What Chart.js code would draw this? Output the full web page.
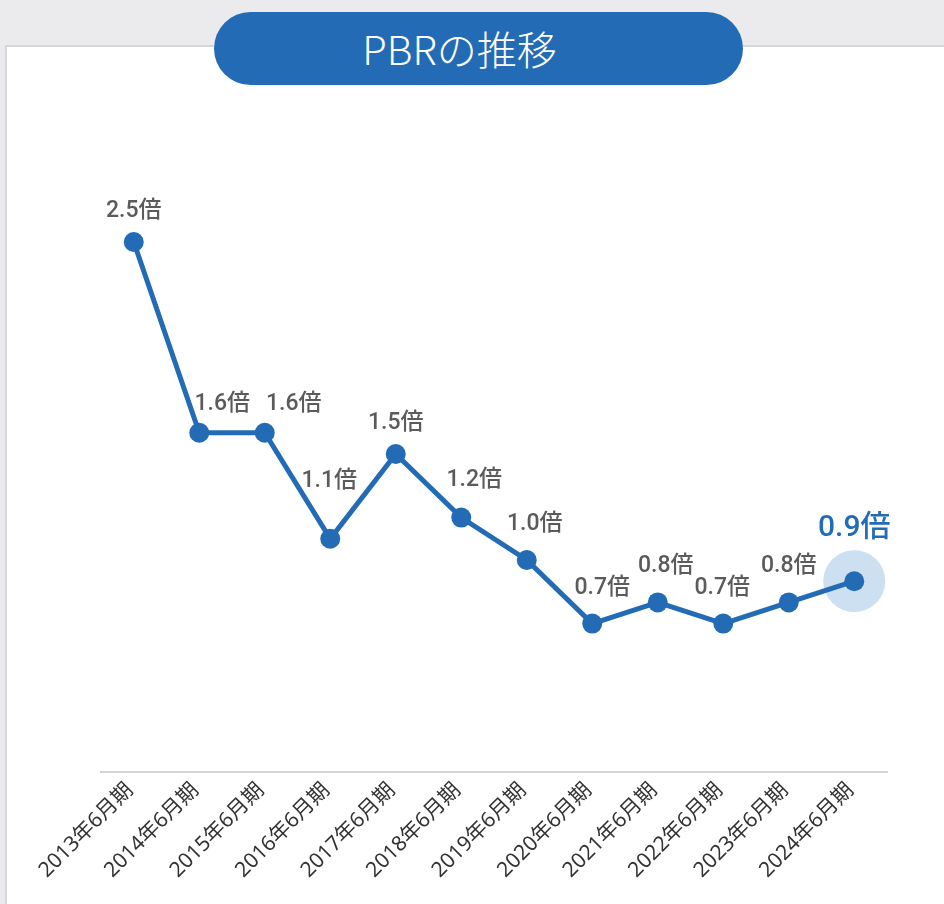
<!DOCTYPE html>
<html>
<head>
<meta charset="utf-8">
<script src="https://cdn.jsdelivr.net/npm/chart.js@4.4.1/dist/chart.umd.min.js"></script>
<style>
  html, body { margin:0; padding:0; }
  body { width:944px; height:904px; background:#ebebee; position:relative; overflow:hidden; font-family:"Noto Sans CJK JP","Noto Sans",sans-serif; }
  #panel { position:absolute; left:5px; top:45px; right:0; bottom:0; background:#fff; border-left:2px solid #d7d7d9; border-top:2px solid #d7d7d9; }
  #title { position:absolute; left:214px; top:12px; width:529px; height:73px; border-radius:37px; background:#236cb5; color:#fff;
           font-family:"Noto Sans CJK JP",sans-serif; font-weight:300; font-size:40px; line-height:73px; text-align:center; text-indent:-38px; }
  #wrap { position:absolute; left:0; top:0; width:944px; height:904px; }
</style>
</head>
<body>
<div id="panel"></div>
<div id="title">PBRの推移</div>
<div id="wrap"><canvas id="c" width="944" height="904"></canvas></div>
<script>
const categories = ["2013年6月期","2014年6月期","2015年6月期","2016年6月期","2017年6月期","2018年6月期","2019年6月期","2020年6月期","2021年6月期","2022年6月期","2023年6月期","2024年6月期"];
const pbrValues = [2.5, 1.6, 1.6, 1.1, 1.5, 1.2, 1.0, 0.7, 0.8, 0.7, 0.8, 0.9];
const valueLabels = ["2.5倍","1.6倍","1.6倍","1.1倍","1.5倍","1.2倍","1.0倍","0.7倍","0.8倍","0.7倍","0.8倍","0.9倍"];
// label placement offsets (px) relative to each point
const labelDx = [0, 23, 29, -1, 0, 13, 8, 10, 8, -1, 0, 0];
const labelDy = [-31, -29, -29, -58, -31, -37, -36, -35, -36, -35, -36, -53];

const BLUE = "#236cb5";

const highlightPlugin = {
  id: "highlight",
  beforeDatasetsDraw(chart) {
    const meta = chart.getDatasetMeta(0);
    const last = meta.data[meta.data.length - 1];
    const ctx = chart.ctx;
    ctx.save();
    ctx.beginPath();
    ctx.arc(last.x, last.y, 31, 0, Math.PI * 2);
    ctx.fillStyle = "#cce0f1";
    ctx.fill();
    ctx.restore();
  }
};

const labelPlugin = {
  id: "valueLabels",
  afterDatasetsDraw(chart) {
    const meta = chart.getDatasetMeta(0);
    const ctx = chart.ctx;
    ctx.save();
    ctx.textAlign = "center";
    ctx.textBaseline = "middle";
    meta.data.forEach((pt, i) => {
      const isLast = i === meta.data.length - 1;
      ctx.font = isLast ? '500 30px Roboto, "Noto Sans CJK JP", sans-serif' : '500 23px Roboto, "Noto Sans CJK JP", sans-serif';
      ctx.fillStyle = isLast ? BLUE : "#5b5b5b";
      ctx.fillText(valueLabels[i], pt.x + labelDx[i], pt.y + labelDy[i]);
    });
    ctx.restore();
  }
};

new Chart(document.getElementById("c"), {
  type: "line",
  data: {
    labels: categories,
    datasets: [{
      data: pbrValues,
      borderColor: BLUE,
      backgroundColor: BLUE,
      borderWidth: 5,
      pointRadius: 10,
      pointBackgroundColor: BLUE,
      pointBorderWidth: 0,
      tension: 0,
      fill: false
    }]
  },
  options: {
    responsive: false,
    animation: false,
    events: [],
    layout: { padding: { left: 101, right: 57, top: 136, bottom: 0 } },
    plugins: { legend: { display: false }, tooltip: { enabled: false }, title: { display: false } },
    scales: {
      y: { display: false, min: 0, max: 3 },
      x: {
        offset: true,
        grid: { display: false, drawTicks: false },
        border: { display: true, color: "#d3d3d3", width: 2 },
        ticks: {
          minRotation: 45, maxRotation: 45, padding: 6, labelOffset: -4,
          color: "#333333",
          font: { family: '"Noto Sans", "Noto Sans CJK JP", sans-serif', size: 21 }
        },
        afterFit(scale) { scale.height = 132; }
      }
    }
  },
  plugins: [highlightPlugin, labelPlugin]
});
</script>
</body>
</html>
